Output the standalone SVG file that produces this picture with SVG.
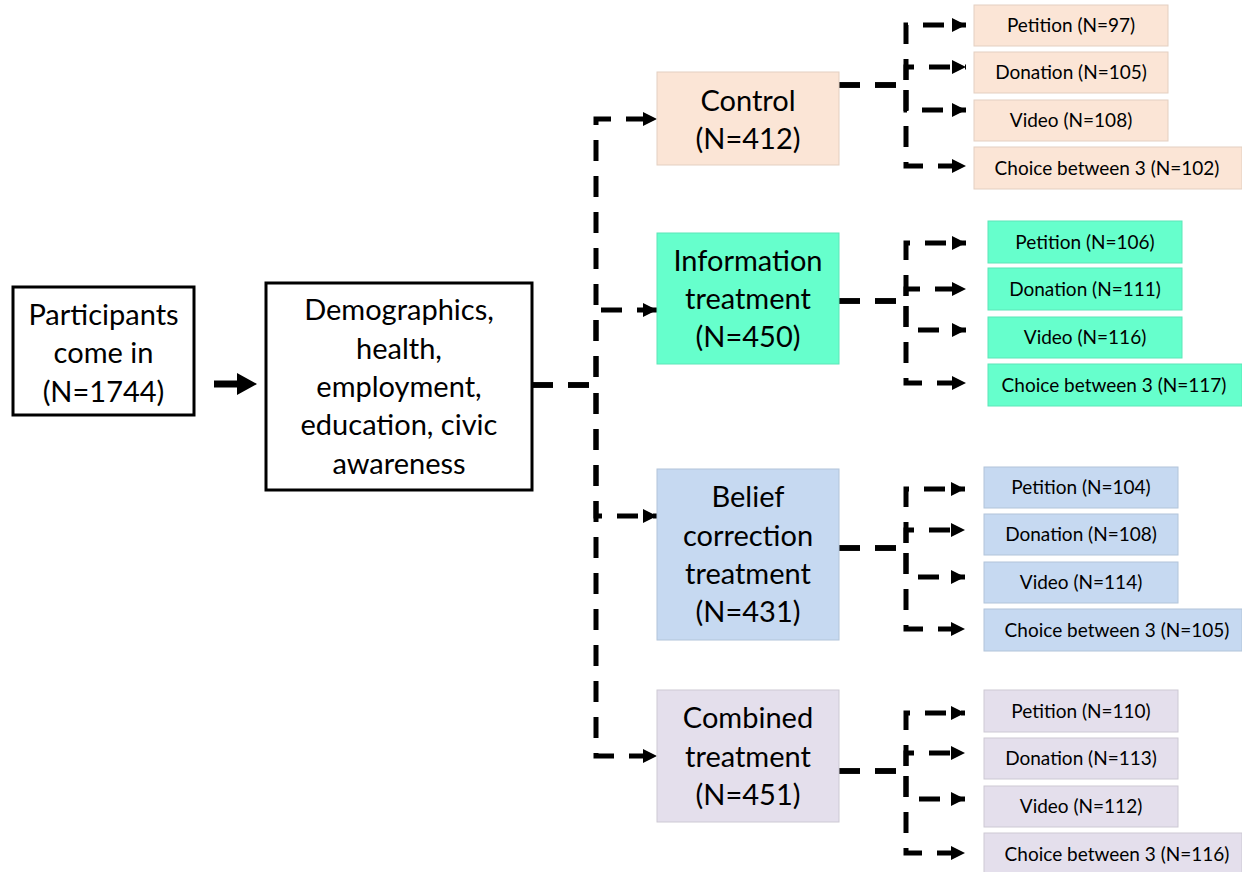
<svg xmlns="http://www.w3.org/2000/svg" width="1242" height="872" viewBox="0 0 1242 872">
<defs>
<style>
.t{font-family:Lato,"Liberation Sans",sans-serif;fill:#000;text-anchor:middle}
.big{font-size:29px}
.mid{font-size:29px}
.sm{font-size:19px}
.bx{fill:#fff;stroke:#000;stroke-width:3}
.ctl{fill:#fbe5d6;stroke:#e3cfc1;stroke-width:1}
.inf{fill:#66ffcc;stroke:#5ce6b8;stroke-width:1}
.bel{fill:#c6d9f1;stroke:#b2c4d9;stroke-width:1}
.com{fill:#e4dfec;stroke:#cdc9d4;stroke-width:1}
.dl{fill:none;stroke:#000;stroke-width:5;stroke-dasharray:21 15}
</style>
<marker id="ah" markerUnits="userSpaceOnUse" markerWidth="14" markerHeight="14" refX="14" refY="7" orient="auto" viewBox="0 0 14 14">
<path d="M0,0 L14,7 L0,14 Z" fill="#000"/>
</marker>
<marker id="ahs" markerUnits="userSpaceOnUse" markerWidth="20" markerHeight="22" refX="20" refY="11" orient="auto" viewBox="0 0 20 22">
<path d="M0,0 L20,11 L0,22 Z" fill="#000"/>
</marker>
</defs>

<g id="connectors">
<path d="M214,384 H237" stroke="#000" stroke-width="7" fill="none"/>
<path d="M232,384 H257" stroke="none" fill="none" marker-end="url(#ahs)"/>
<path class="dl" d="M532,385 H596 V119 H657" marker-end="url(#ah)"/>
<path class="dl" d="M532,385 H596 V310 H657" marker-end="url(#ah)"/>
<path class="dl" d="M532,385 H596 V516 H657" marker-end="url(#ah)"/>
<path class="dl" d="M532,385 H596 V756 H657" marker-end="url(#ah)"/>

<path class="dl" d="M839,85 H906 V25 H966" marker-end="url(#ah)"/>
<path class="dl" d="M839,85 H906 V67 H966" marker-end="url(#ah)"/>
<path class="dl" d="M839,85 H906 V110 H966" marker-end="url(#ah)"/>
<path class="dl" d="M839,85 H906 V166 H966" marker-end="url(#ah)"/>

<path class="dl" d="M839,301 H906 V243 H966" marker-end="url(#ah)"/>
<path class="dl" d="M839,301 H906 V289 H966" marker-end="url(#ah)"/>
<path class="dl" d="M839,301 H906 V330 H966" marker-end="url(#ah)"/>
<path class="dl" d="M839,301 H906 V383 H966" marker-end="url(#ah)"/>

<path class="dl" d="M839,548 H906 V489 H965" marker-end="url(#ah)"/>
<path class="dl" d="M839,548 H906 V530 H965" marker-end="url(#ah)"/>
<path class="dl" d="M839,548 H906 V577 H965" marker-end="url(#ah)"/>
<path class="dl" d="M839,548 H906 V629 H965" marker-end="url(#ah)"/>

<path class="dl" d="M839,771 H906 V713 H965" marker-end="url(#ah)"/>
<path class="dl" d="M839,771 H906 V753 H965" marker-end="url(#ah)"/>
<path class="dl" d="M839,771 H906 V799 H965" marker-end="url(#ah)"/>
<path class="dl" d="M839,771 H906 V853 H965" marker-end="url(#ah)"/>
</g>

<g id="participants">
<rect class="bx" x="13" y="287" width="181" height="128"/>
<text class="t big" x="103.5" y="325">Participants</text>
<text class="t big" x="103.5" y="363">come in</text>
<text class="t big" x="103.5" y="402">(N=1744)</text>
</g>

<g id="baseline">
<rect class="bx" x="266" y="283" width="266" height="207"/>
<text class="t big" x="399" y="320">Demographics,</text>
<text class="t big" x="399" y="359">health,</text>
<text class="t big" x="399" y="397">employment,</text>
<text class="t big" x="399" y="435">education, civic</text>
<text class="t big" x="399" y="474">awareness</text>
</g>

<g id="control">
<rect class="ctl" x="657" y="72" width="182" height="93"/>
<text class="t mid" x="748" y="111">Control</text>
<text class="t mid" x="748" y="149">(N=412)</text>
</g>
<g id="information">
<rect class="inf" x="657" y="233" width="182" height="131"/>
<text class="t mid" x="748" y="271">Information</text>
<text class="t mid" x="748" y="309">treatment</text>
<text class="t mid" x="748" y="347">(N=450)</text>
</g>
<g id="belief">
<rect class="bel" x="657" y="469" width="182" height="171"/>
<text class="t mid" x="748" y="507">Belief</text>
<text class="t mid" x="748" y="546">correction</text>
<text class="t mid" x="748" y="584">treatment</text>
<text class="t mid" x="748" y="622">(N=431)</text>
</g>
<g id="combined">
<rect class="com" x="657" y="690" width="182" height="132"/>
<text class="t mid" x="748" y="728">Combined</text>
<text class="t mid" x="748" y="767">treatment</text>
<text class="t mid" x="748" y="805">(N=451)</text>
</g>

<g id="control-petition"><rect class="ctl" x="974" y="5" width="194" height="41"/><text class="t sm" x="1071" y="32">Petition (N=97)</text></g>
<g id="control-donation"><rect class="ctl" x="974" y="52" width="194" height="41"/><text class="t sm" x="1071" y="79">Donation (N=105)</text></g>
<g id="control-video"><rect class="ctl" x="974" y="100" width="194" height="41"/><text class="t sm" x="1071" y="127">Video (N=108)</text></g>
<g id="control-choice"><rect class="ctl" x="974" y="147" width="268" height="42"/><text class="t sm" x="1107" y="175">Choice between 3 (N=102)</text></g>

<g id="info-petition"><rect class="inf" x="988" y="221" width="194" height="42"/><text class="t sm" x="1085" y="249">Petition (N=106)</text></g>
<g id="info-donation"><rect class="inf" x="988" y="268" width="194" height="42"/><text class="t sm" x="1085" y="296">Donation (N=111)</text></g>
<g id="info-video"><rect class="inf" x="988" y="317" width="194" height="41"/><text class="t sm" x="1085" y="344">Video (N=116)</text></g>
<g id="info-choice"><rect class="inf" x="988" y="364" width="254" height="42"/><text class="t sm" x="1114" y="392">Choice between 3 (N=117)</text></g>

<g id="belief-petition"><rect class="bel" x="984" y="467" width="194" height="41"/><text class="t sm" x="1081" y="494">Petition (N=104)</text></g>
<g id="belief-donation"><rect class="bel" x="984" y="514" width="194" height="41"/><text class="t sm" x="1081" y="541">Donation (N=108)</text></g>
<g id="belief-video"><rect class="bel" x="984" y="562" width="194" height="41"/><text class="t sm" x="1081" y="589">Video (N=114)</text></g>
<g id="belief-choice"><rect class="bel" x="984" y="609" width="258" height="42"/><text class="t sm" x="1117" y="637">Choice between 3 (N=105)</text></g>

<g id="combined-petition"><rect class="com" x="984" y="690" width="194" height="42"/><text class="t sm" x="1081" y="718">Petition (N=110)</text></g>
<g id="combined-donation"><rect class="com" x="984" y="738" width="194" height="41"/><text class="t sm" x="1081" y="765">Donation (N=113)</text></g>
<g id="combined-video"><rect class="com" x="984" y="786" width="194" height="41"/><text class="t sm" x="1081" y="813">Video (N=112)</text></g>
<g id="combined-choice"><rect class="com" x="984" y="833" width="258" height="42"/><text class="t sm" x="1117" y="861">Choice between 3 (N=116)</text></g>
</svg>
